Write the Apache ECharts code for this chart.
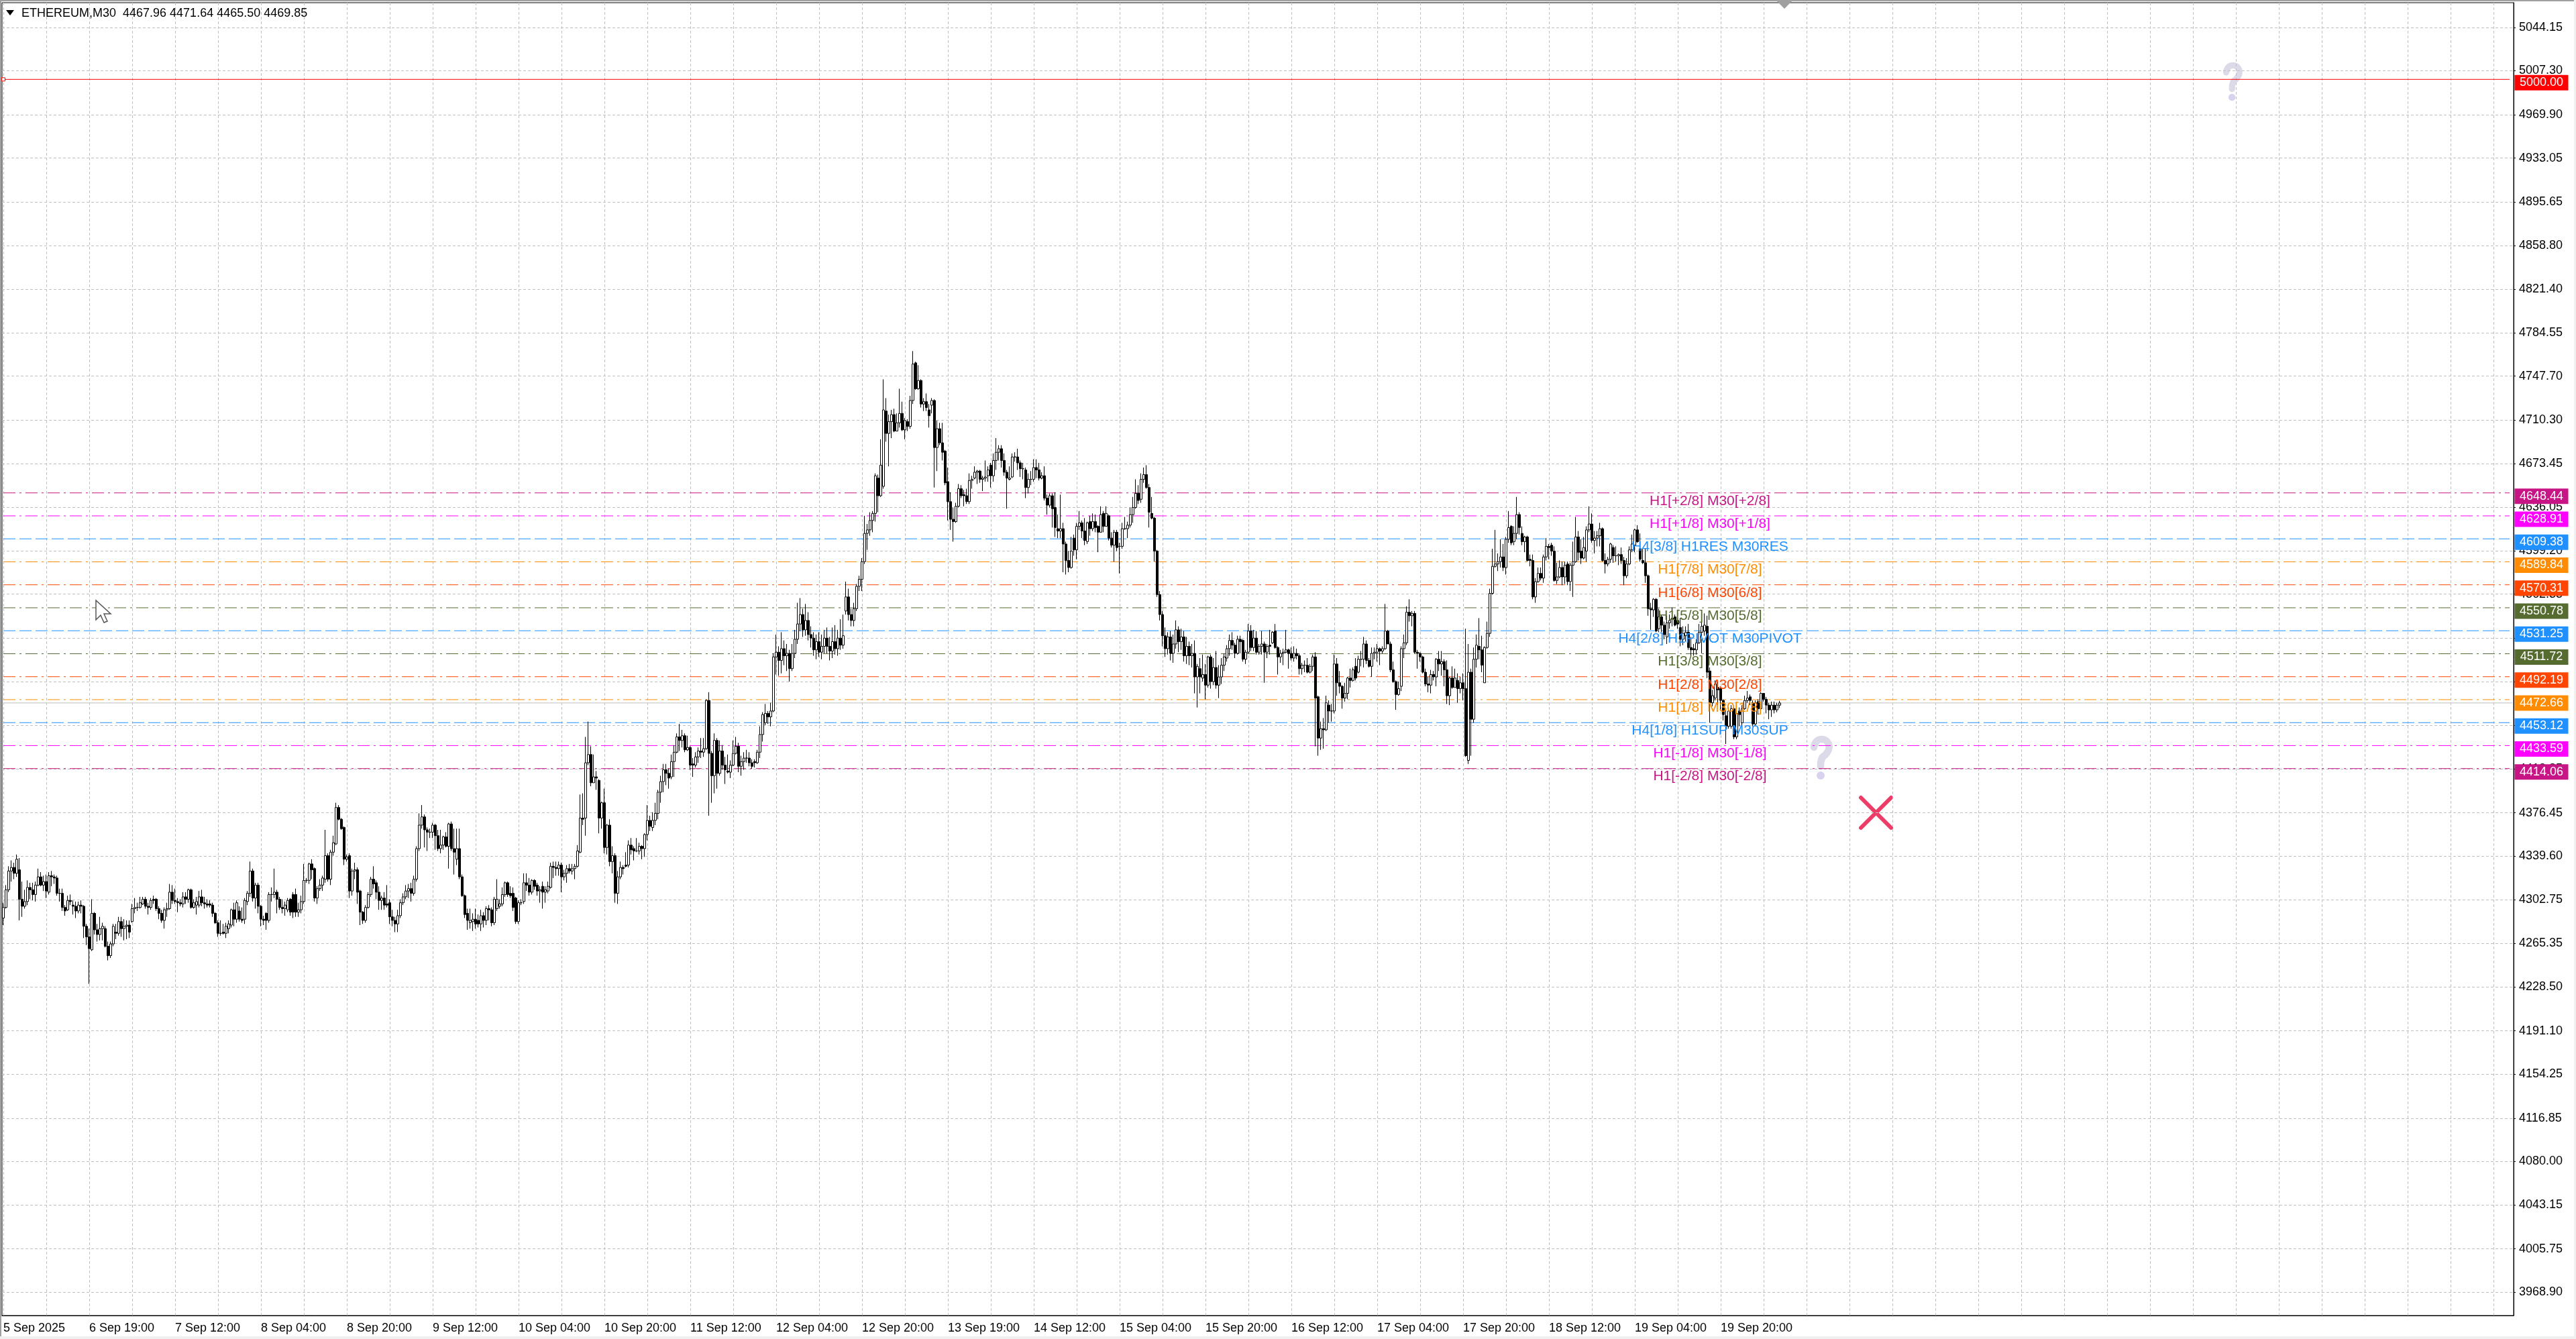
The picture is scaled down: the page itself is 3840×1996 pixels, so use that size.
<!DOCTYPE html>
<html>
<head>
<meta charset="utf-8">
<title>ETHEREUM,M30</title>
<script src="https://cdn.jsdelivr.net/npm/echarts@6/dist/echarts.min.js"></script>
<style>
html, body { margin: 0; padding: 0; background: #fff; }
#chart { width: 3840px; height: 1996px; }
</style>
</head>
<body>
<div id="chart"></div>
<script>
// x axis tick labels, one every 32 bars
const tickLabels = ['5 Sep 2025', '6 Sep 19:00', '7 Sep 12:00', '8 Sep 04:00', '8 Sep 20:00', '9 Sep 12:00', '10 Sep 04:00',
  '10 Sep 20:00', '11 Sep 12:00', '12 Sep 04:00', '12 Sep 20:00', '13 Sep 19:00', '14 Sep 12:00', '15 Sep 04:00',
  '15 Sep 20:00', '16 Sep 12:00', '17 Sep 04:00', '17 Sep 20:00', '18 Sep 12:00', '19 Sep 04:00', '19 Sep 20:00']

// y axis tick labels
const priceTicks = [5044.15, 5007.30, 4969.90, 4933.05, 4895.65, 4858.80, 4821.40, 4784.55, 4747.70, 4710.30, 4673.45,
  4636.05, 4599.20, 4562.35, 4524.95, 4488.10, 4450.70, 4413.85, 4376.45, 4339.60, 4302.75, 4265.35, 4228.50, 4191.10,
  4154.25, 4116.85, 4080.00, 4043.15, 4005.75, 3968.90]

// murrey levels
const levelValues = [4648.44, 4628.91, 4609.38, 4589.84, 4570.31, 4550.78, 4531.25, 4511.72, 4492.19, 4472.66, 4453.12, 4433.59, 4414.06]
const levelNames = ['H1[+2/8] M30[+2/8]', 'H1[+1/8] M30[+1/8]', 'H4[3/8] H1RES M30RES', 'H1[7/8] M30[7/8]', 'H1[6/8] M30[6/8]',
  'H1[5/8] M30[5/8]', 'H4[2/8] H1PIVOT M30PIVOT', 'H1[3/8] M30[3/8]', 'H1[2/8] M30[2/8]', 'H1[1/8] M30[1/8]',
  'H4[1/8] H1SUP M30SUP', 'H1[-1/8] M30[-1/8]', 'H1[-2/8] M30[-2/8]']
const levelColors = ['#C71585', '#FF00FF', '#1E90FF', '#FF8C00', '#FF4500', '#556B2F', '#1E90FF', '#556B2F', '#FF4500', '#FF8C00', '#1E90FF', '#FF00FF', '#C71585']

const targetPrice = 5000
const lastPrice = 4469.85

// candles as [open, close, low, high], one block per x axis tick
const block00 = [[4287,4296,4281,4300],[4296,4311,4295,4315],[4311,4327,4309,4331],[4327,4330,4318,4336],[4330,4325,4320,4334],[4325,4337,4322,4341],[4328,4303,4285,4338],[4303,4297,4288,4318],
  [4297,4301,4295,4311],[4301,4313,4298,4319],[4313,4311,4303,4317],[4311,4307,4302,4317],[4307,4315,4301,4318],[4315,4322,4314,4329],[4322,4315,4314,4326],[4315,4318,4310,4323],
  [4318,4310,4304,4324],[4309,4323,4307,4326],[4323,4322,4314,4327],[4322,4321,4316,4324],[4321,4308,4306,4323],[4308,4308,4301,4312],[4308,4296,4293,4312],[4296,4293,4289,4298],
  [4294,4302,4293,4306],[4302,4301,4298,4307],[4298,4297,4290,4302],[4297,4293,4287,4301],[4293,4298,4291,4301],[4298,4297,4291,4302],[4297,4280,4270,4298],[4280,4271,4264,4282]]
const block01 = [[4271,4261,4231,4278],[4260,4291,4259,4303],[4291,4277,4273,4292],[4277,4273,4267,4282],[4273,4278,4268,4288],[4278,4280,4268,4283],[4278,4263,4262,4280],[4263,4255,4251,4267],
  [4255,4265,4253,4267],[4265,4280,4263,4282],[4275,4274,4269,4282],[4274,4284,4272,4288],[4284,4278,4271,4288],[4278,4280,4268,4286],[4280,4281,4269,4285],[4281,4275,4270,4285],
  [4284,4295,4283,4299],[4295,4296,4291,4304],[4296,4296,4293,4300],[4296,4300,4295,4305],[4299,4303,4298,4305],[4303,4297,4295,4305],[4297,4296,4290,4300],[4296,4302,4294,4304],
  [4303,4302,4299,4306],[4303,4295,4293,4304],[4295,4291,4286,4297],[4291,4285,4283,4294],[4285,4294,4278,4296],[4294,4295,4288,4300],[4295,4309,4294,4316],[4309,4302,4299,4315]]
const block02 = [[4302,4301,4299,4312],[4301,4300,4292,4304],[4300,4299,4297,4303],[4299,4305,4296,4309],[4305,4303,4299,4309],[4303,4311,4300,4312],[4311,4296,4295,4312],[4296,4300,4295,4303],
  [4298,4301,4290,4305],[4298,4305,4296,4310],[4305,4300,4297,4311],[4300,4299,4295,4305],[4299,4298,4296,4303],[4299,4298,4296,4302],[4298,4291,4288,4300],[4291,4283,4282,4292],
  [4283,4274,4271,4285],[4274,4274,4272,4285],[4275,4274,4273,4282],[4274,4280,4270,4283],[4278,4282,4274,4285],[4281,4294,4279,4295],[4294,4286,4280,4300],[4286,4300,4283,4302],
  [4293,4286,4284,4297],[4286,4285,4283,4296],[4286,4302,4282,4304],[4301,4308,4298,4310],[4308,4327,4305,4335],[4327,4304,4301,4329],[4304,4315,4295,4317],[4315,4297,4291,4317]]
const block03 = [[4297,4286,4280,4298],[4286,4285,4281,4289],[4291,4285,4277,4292],[4285,4307,4283,4309],[4307,4307,4301,4313],[4307,4309,4304,4329],[4309,4303,4291,4311],[4303,4296,4294,4305],
  [4296,4295,4291,4303],[4295,4298,4289,4301],[4294,4302,4292,4304],[4303,4292,4289,4304],[4307,4292,4287,4309],[4307,4292,4288,4312],[4292,4294,4288,4300],[4294,4301,4291,4306],
  [4301,4319,4299,4333],[4319,4319,4317,4321],[4319,4333,4316,4334],[4333,4328,4320,4337],[4329,4304,4301,4330],[4304,4312,4299,4314],[4312,4315,4310,4320],[4315,4321,4310,4323],
  [4320,4340,4317,4362],[4340,4320,4318,4342],[4320,4343,4315,4345],[4343,4351,4340,4357],[4350,4381,4349,4385],[4381,4371,4370,4383],[4371,4363,4362,4372],[4364,4337,4332,4365]]
const block04 = [[4337,4339,4335,4341],[4340,4310,4304,4342],[4310,4327,4306,4329],[4327,4328,4320,4334],[4328,4309,4299,4330],[4310,4292,4281,4311],[4292,4285,4282,4293],[4285,4296,4283,4298],
  [4296,4307,4295,4309],[4307,4320,4305,4322],[4320,4316,4312,4331],[4317,4309,4303,4319],[4309,4302,4294,4314],[4302,4304,4294,4306],[4304,4298,4294,4309],[4299,4298,4296,4315],
  [4300,4288,4282,4303],[4288,4285,4280,4294],[4285,4282,4275,4288],[4282,4289,4275,4294],[4289,4300,4287,4303],[4300,4305,4298,4308],[4305,4310,4303,4315],[4310,4312,4304,4316],
  [4312,4308,4301,4317],[4308,4320,4306,4323],[4320,4346,4318,4348],[4346,4366,4344,4376],[4366,4373,4363,4383],[4373,4362,4347,4375],[4362,4360,4344,4364],[4360,4360,4355,4363]]
const block05 = [[4360,4366,4355,4368],[4366,4357,4345,4367],[4357,4346,4344,4362],[4346,4349,4342,4362],[4349,4356,4345,4357],[4356,4348,4347,4360],[4348,4367,4329,4368],[4367,4346,4344,4369],
  [4346,4343,4324,4363],[4337,4346,4332,4363],[4346,4322,4320,4363],[4322,4306,4305,4324],[4306,4290,4287,4307],[4291,4285,4277,4295],[4283,4285,4278,4295],[4284,4286,4276,4291],
  [4286,4282,4278,4295],[4285,4282,4279,4290],[4282,4289,4276,4294],[4289,4285,4279,4292],[4285,4295,4281,4297],[4295,4294,4285,4298],[4294,4283,4280,4296],[4283,4303,4281,4305],
  [4295,4303,4293,4320],[4297,4299,4295,4303],[4299,4307,4297,4313],[4307,4317,4305,4318],[4317,4307,4305,4318],[4308,4306,4304,4314],[4308,4296,4293,4313],[4304,4284,4282,4305]]
const block06 = [[4284,4300,4282,4302],[4300,4300,4298,4303],[4301,4317,4299,4325],[4317,4315,4310,4325],[4315,4309,4306,4321],[4309,4319,4307,4320],[4319,4314,4311,4320],[4315,4310,4306,4317],
  [4310,4311,4300,4314],[4314,4309,4295,4318],[4309,4311,4300,4314],[4310,4314,4308,4318],[4313,4331,4312,4334],[4331,4330,4321,4335],[4330,4329,4323,4335],[4329,4332,4323,4335],
  [4332,4322,4309,4334],[4322,4325,4319,4328],[4325,4329,4317,4332],[4329,4327,4325,4333],[4327,4329,4324,4333],[4329,4331,4320,4333],[4331,4344,4330,4349],[4343,4372,4342,4392],
  [4372,4371,4366,4393],[4372,4419,4357,4441],[4419,4426,4417,4454],[4426,4402,4399,4433],[4402,4407,4402,4426],[4407,4406,4396,4412],[4404,4372,4359,4405],[4372,4385,4363,4386]]
const block07 = [[4385,4347,4342,4397],[4347,4366,4341,4367],[4366,4335,4331,4371],[4335,4340,4325,4348],[4340,4308,4300,4342],[4308,4322,4299,4327],[4322,4330,4320,4335],[4330,4329,4324,4332],
  [4332,4331,4330,4343],[4332,4349,4330,4353],[4349,4345,4341,4355],[4346,4344,4336,4348],[4344,4344,4343,4355],[4344,4348,4341,4351],[4348,4346,4337,4349],[4346,4358,4339,4359],
  [4358,4370,4353,4383],[4370,4365,4361,4374],[4364,4370,4361,4377],[4370,4376,4366,4385],[4376,4394,4371,4396],[4394,4403,4385,4408],[4403,4413,4394,4418],[4413,4410,4400,4418],
  [4410,4406,4397,4414],[4407,4420,4405,4426],[4420,4428,4407,4434],[4428,4441,4427,4444],[4441,4438,4429,4452],[4438,4442,4432,4447],[4442,4430,4428,4444],[4430,4432,4429,4442]]
const block08 = [[4432,4417,4413,4433],[4418,4417,4407,4423],[4417,4424,4415,4428],[4424,4429,4419,4432],[4429,4428,4423,4440],[4428,4431,4424,4440],[4431,4472,4430,4473],[4472,4427,4374,4479],
  [4427,4408,4385,4429],[4408,4438,4393,4444],[4438,4410,4397,4440],[4410,4429,4408,4438],[4429,4417,4413,4434],[4417,4413,4401,4424],[4412,4411,4410,4426],[4411,4417,4406,4421],
  [4417,4427,4416,4438],[4427,4433,4426,4441],[4433,4416,4411,4436],[4416,4420,4408,4425],[4420,4423,4413,4428],[4423,4423,4419,4430],[4423,4419,4416,4428],[4419,4416,4414,4422],
  [4420,4419,4415,4422],[4419,4428,4418,4430],[4428,4443,4423,4450],[4443,4460,4437,4462],[4453,4461,4451,4469],[4461,4458,4452,4463],[4458,4463,4450,4470],[4463,4509,4462,4512]]
const block09 = [[4509,4513,4494,4528],[4513,4506,4493,4518],[4506,4516,4495,4530],[4516,4510,4502,4523],[4510,4512,4497,4520],[4512,4499,4488,4515],[4499,4512,4497,4520],[4512,4524,4508,4532],
  [4524,4537,4520,4555],[4537,4545,4531,4559],[4545,4532,4526,4550],[4532,4540,4527,4554],[4540,4528,4523,4547],[4528,4525,4517,4535],[4525,4515,4510,4530],[4515,4522,4507,4528],
  [4522,4513,4509,4530],[4513,4518,4507,4528],[4518,4525,4512,4532],[4525,4518,4512,4534],[4518,4514,4506,4526],[4514,4522,4508,4534],[4522,4516,4511,4536],[4516,4525,4510,4532],
  [4525,4519,4515,4541],[4519,4527,4516,4545],[4548,4560,4545,4573],[4560,4545,4540,4567],[4545,4540,4535,4550],[4540,4550,4535,4555],[4550,4569,4548,4571],[4569,4575,4565,4578]]
const block10 = [[4575,4590,4565,4593],[4590,4614,4588,4629],[4614,4617,4600,4622],[4617,4625,4612,4632],[4625,4631,4615,4633],[4631,4663,4624,4665],[4661,4646,4632,4664],[4646,4672,4645,4694],
  [4654,4719,4652,4745],[4718,4699,4692,4729],[4699,4709,4671,4715],[4709,4715,4695,4719],[4715,4701,4700,4720],[4701,4708,4701,4716],[4708,4716,4704,4737],[4716,4702,4701,4726],
  [4702,4710,4694,4712],[4709,4705,4701,4711],[4705,4727,4703,4731],[4727,4758,4724,4769],[4759,4737,4736,4760],[4737,4744,4736,4757],[4744,4724,4721,4745],[4724,4726,4718,4729],
  [4726,4721,4718,4733],[4719,4714,4704,4724],[4723,4727,4716,4729],[4727,4687,4653,4728],[4687,4703,4667,4710],[4703,4691,4689,4708],[4691,4683,4676,4708],[4684,4657,4655,4685]]
const block11 = [[4658,4641,4625,4670],[4641,4626,4617,4649],[4626,4624,4607,4636],[4624,4637,4623,4640],[4637,4652,4636,4656],[4652,4646,4644,4655],[4647,4646,4637,4651],[4646,4641,4639,4652],
  [4641,4659,4639,4665],[4659,4660,4652,4663],[4661,4666,4660,4671],[4666,4667,4656,4668],[4667,4660,4657,4668],[4660,4661,4650,4663],[4661,4662,4658,4676],[4663,4668,4658,4671],
  [4672,4663,4653,4674],[4663,4676,4658,4682],[4676,4683,4668,4695],[4683,4686,4676,4689],[4686,4676,4670,4689],[4676,4666,4663,4682],[4666,4661,4635,4668],[4660,4661,4659,4671],
  [4662,4679,4661,4682],[4679,4679,4675,4683],[4679,4674,4668,4686],[4674,4669,4662,4676],[4669,4669,4660,4674],[4668,4653,4644,4670],[4653,4660,4648,4665],[4660,4660,4655,4667]]
const block12 = [[4660,4670,4658,4677],[4670,4668,4661,4677],[4668,4661,4659,4674],[4661,4663,4660,4666],[4663,4644,4642,4671],[4644,4638,4630,4647],[4638,4646,4636,4648],[4646,4635,4619,4648],
  [4636,4619,4611,4649],[4618,4616,4610,4630],[4616,4618,4610,4647],[4618,4605,4581,4623],[4605,4591,4579,4607],[4591,4585,4581,4599],[4585,4599,4584,4611],[4610,4600,4595,4613],
  [4600,4620,4592,4623],[4620,4623,4617,4633],[4623,4616,4610,4625],[4616,4608,4604,4627],[4607,4623,4605,4624],[4624,4618,4612,4629],[4618,4624,4616,4631],[4624,4619,4615,4630],
  [4620,4615,4598,4621],[4615,4630,4615,4637],[4631,4620,4615,4633],[4620,4631,4620,4637],[4629,4610,4608,4630],[4610,4604,4602,4615],[4604,4615,4590,4617],[4615,4602,4599,4617]]
const block13 = [[4603,4603,4580,4606],[4603,4618,4601,4623],[4618,4618,4617,4628],[4618,4621,4610,4624],[4621,4630,4619,4636],[4630,4636,4623,4645],[4636,4648,4635,4660],[4648,4642,4639,4655],
  [4643,4660,4640,4665],[4660,4664,4657,4670],[4664,4653,4652,4672],[4653,4632,4619,4656],[4631,4627,4626,4645],[4627,4599,4590,4628],[4599,4562,4560,4600],[4562,4545,4540,4565],
  [4545,4527,4518,4548],[4527,4516,4509,4534],[4516,4526,4511,4530],[4526,4512,4506,4531],[4512,4520,4504,4528],[4520,4532,4516,4540],[4532,4522,4513,4535],[4522,4526,4515,4533],
  [4526,4510,4505,4531],[4510,4518,4503,4526],[4518,4510,4502,4522],[4510,4512,4500,4520],[4512,4492,4478,4523],[4492,4501,4466,4503],[4499,4492,4478,4508],[4491,4494,4488,4511]]
const block14 = [[4494,4485,4473,4503],[4485,4509,4483,4510],[4509,4488,4482,4511],[4488,4500,4485,4508],[4500,4485,4482,4514],[4485,4492,4474,4502],[4492,4502,4486,4508],[4502,4509,4497,4512],
  [4508,4516,4505,4519],[4516,4523,4510,4528],[4523,4519,4515,4530],[4519,4512,4508,4521],[4512,4524,4511,4527],[4524,4522,4512,4527],[4523,4507,4505,4524],[4507,4513,4503,4515],
  [4513,4531,4512,4537],[4531,4517,4514,4536],[4517,4525,4514,4532],[4525,4513,4511,4531],[4513,4518,4511,4520],[4518,4520,4511,4531],[4520,4513,4487,4522],[4513,4518,4508,4520],
  [4519,4518,4511,4532],[4521,4530,4520,4531],[4531,4517,4516,4537],[4517,4509,4494,4518],[4509,4512,4504,4515],[4512,4513,4502,4516],[4513,4515,4512,4532],[4515,4512,4499,4516]]
const block15 = [[4512,4508,4506,4517],[4508,4512,4505,4518],[4512,4510,4507,4516],[4510,4499,4494,4512],[4499,4502,4494,4504],[4502,4502,4496,4506],[4502,4496,4495,4508],[4496,4501,4495,4503],
  [4501,4509,4497,4511],[4509,4474,4433,4513],[4475,4440,4425,4476],[4440,4448,4430,4454],[4448,4447,4431,4457],[4447,4470,4446,4476],[4468,4463,4453,4472],[4463,4463,4454,4469],
  [4463,4503,4461,4511],[4503,4487,4476,4508],[4487,4484,4478,4497],[4484,4474,4465,4485],[4474,4478,4471,4487],[4478,4491,4473,4492],[4491,4489,4483,4499],[4489,4498,4488,4500],
  [4501,4491,4489,4508],[4496,4507,4495,4510],[4507,4507,4501,4514],[4507,4520,4500,4526],[4520,4506,4503,4523],[4506,4501,4500,4508],[4501,4512,4492,4517],[4512,4513,4507,4517]]
const block16 = [[4513,4516,4505,4520],[4516,4514,4502,4517],[4514,4516,4512,4518],[4516,4531,4515,4554],[4531,4520,4520,4532],[4520,4498,4496,4522],[4498,4488,4487,4505],[4488,4477,4464,4489],
  [4477,4482,4476,4488],[4484,4516,4480,4518],[4516,4521,4508,4528],[4521,4547,4519,4552],[4547,4544,4539,4558],[4544,4546,4535,4548],[4546,4513,4512,4548],[4513,4512,4499,4515],
  [4512,4509,4505,4513],[4509,4496,4495,4510],[4496,4486,4484,4499],[4486,4485,4479,4492],[4485,4494,4478,4498],[4494,4492,4489,4497],[4492,4507,4484,4508],[4507,4503,4497,4514],
  [4503,4505,4493,4514],[4505,4498,4484,4507],[4498,4476,4469,4506],[4476,4491,4468,4492],[4491,4483,4482,4501],[4483,4491,4483,4499],[4489,4482,4470,4495],[4482,4487,4478,4492]]
const block17 = [[4487,4482,4472,4495],[4482,4425,4424,4533],[4421,4496,4418,4520],[4496,4456,4425,4499],[4456,4507,4453,4517],[4507,4519,4500,4528],[4518,4515,4507,4542],[4515,4502,4496,4527],
  [4487,4517,4487,4518],[4517,4529,4516,4539],[4529,4563,4526,4567],[4563,4586,4562,4601],[4586,4588,4585,4617],[4588,4590,4582,4597],[4590,4594,4585,4609],[4594,4585,4582,4605],
  [4585,4609,4579,4611],[4609,4619,4606,4633],[4620,4606,4604,4621],[4607,4614,4604,4620],[4614,4630,4609,4645],[4630,4619,4613,4632],[4614,4607,4604,4620],[4607,4611,4598,4612],
  [4611,4591,4590,4612],[4592,4591,4586,4596],[4591,4560,4558,4596],[4560,4573,4555,4576],[4573,4580,4572,4585],[4580,4576,4574,4585],[4576,4594,4572,4596],[4594,4603,4591,4610]]
const block18 = [[4603,4602,4592,4605],[4604,4599,4595,4606],[4599,4574,4573,4603],[4574,4577,4571,4589],[4577,4585,4576,4591],[4585,4577,4570,4590],[4577,4587,4571,4590],[4588,4573,4570,4590],
  [4573,4587,4565,4589],[4587,4590,4560,4607],[4590,4611,4589,4628],[4611,4598,4591,4616],[4599,4593,4588,4609],[4593,4602,4592,4611],[4599,4617,4590,4620],[4617,4622,4615,4637],
  [4622,4608,4606,4631],[4608,4610,4597,4616],[4610,4612,4603,4616],[4612,4618,4603,4623],[4618,4591,4590,4619],[4591,4588,4580,4597],[4588,4592,4586,4594],[4592,4605,4589,4606],
  [4602,4595,4589,4604],[4595,4595,4590,4603],[4595,4596,4587,4597],[4596,4591,4588,4602],[4591,4578,4570,4594],[4578,4588,4576,4593],[4588,4600,4587,4603],[4600,4605,4598,4613]]
const block19 = [[4604,4617,4598,4618],[4617,4607,4606,4621],[4601,4592,4590,4614],[4591,4589,4588,4601],[4589,4578,4572,4601],[4578,4550,4544,4579],[4550,4549,4532,4555],[4549,4558,4543,4559],
  [4558,4531,4530,4559],[4533,4543,4530,4550],[4543,4536,4530,4545],[4536,4528,4524,4539],[4526,4538,4520,4544],[4538,4540,4533,4545],[4541,4542,4535,4551],[4543,4536,4535,4545],
  [4540,4537,4533,4546],[4534,4524,4518,4542],[4524,4529,4519,4535],[4527,4530,4522,4535],[4530,4517,4515,4537],[4517,4515,4510,4526],[4516,4515,4510,4520],[4515,4521,4511,4524],
  [4521,4530,4520,4537],[4530,4535,4512,4540],[4531,4536,4527,4546],[4535,4496,4491,4544],[4497,4470,4453,4500],[4470,4476,4467,4481],[4474,4486,4472,4489],[4483,4481,4468,4488]]
const block20 = [[4482,4472,4464,4484],[4472,4460,4455,4473],[4459,4450,4435,4464],[4450,4463,4448,4466],[4450,4465,4448,4468],[4465,4441,4439,4466],[4441,4461,4439,4466],[4463,4460,4450,4466],
  [4453,4465,4450,4468],[4465,4472,4464,4476],[4472,4474,4470,4480],[4475,4472,4468,4477],[4470,4452,4450,4472],[4452,4470,4450,4472],[4471,4465,4460,4473],[4465,4478,4463,4479],
  [4478,4473,4471,4478],[4473,4468,4461,4475],[4468,4464,4456,4470],[4464,4468,4458,4471],[4468,4464,4461,4471],[4464,4468,4462,4470],[4467.96,4469.85,4465.50,4471.64]]

const candles = [].concat(block00, block01, block02, block03, block04, block05, block06, block07, block08, block09, block10,
  block11, block12, block13, block14, block15, block16, block17, block18, block19, block20)

// the window has room for 936 bars, price data stops at the last candle
const barSlots = 936
const lastSlot = 934
const labelSlot = 636
const tickEvery = 32
const categories = Array.from({ length: barSlots }, (v, i) => (i % tickEvery === 0 && tickLabels[i / tickEvery]) || '')

const axisFont = "'Liberation Sans', sans-serif"
const axisFontSize = 18

const chart = echarts.init(document.getElementById('chart'))

// dash-dot for the murrey lines, long dash for the blue ones
const levelSeries = levelValues.map((v, i) => ({
  type: 'line',
  z: 1,
  silent: true,
  showSymbol: false,
  data: [[0, v], [lastSlot, v]],
  lineStyle: {
    color: levelColors[i],
    width: 1,
    type: levelColors[i] === '#1E90FF' ? [18, 6] : [18, 6, 3, 6]
  }
}))

// price tag on the axis, slightly under its line like in the terminal
function tagLabel (color, value) {
  return {
    show: true,
    position: 'right',
    offset: [38, 5],
    formatter: value.toFixed(2),
    width: 80,
    height: 23,
    lineHeight: 23,
    align: 'center',
    color: '#fff',
    fontFamily: axisFont,
    fontSize: axisFontSize,
    backgroundColor: color
  }
}

const tagData = levelValues.map((v, i) => ({
  value: [lastSlot + 1, v],
  label: tagLabel(levelColors[i], v)
}))
tagData.push({ value: [lastSlot + 1, targetPrice], label: tagLabel('#FF0000', targetPrice) })

const nameData = levelValues.map((v, i) => ({
  value: [labelSlot, v],
  label: {
    show: true,
    position: 'inside',
    offset: [0, 12],
    formatter: levelNames[i],
    color: levelColors[i],
    fontFamily: 'Liberation Sans',
    fontSize: 21
  }
}))

// question mark picture, drawn as a thick rounded stroke
function questionMark (x, y, scale) {
  return {
    type: 'group',
    x: x,
    y: y,
    scaleX: scale,
    scaleY: scale,
    z: 20,
    children: [
      {
        type: 'polyline',
        shape: { points: [[5, 17], [9, 8], [17, 5], [25, 9], [27.5, 18], [23, 27], [17, 33], [15, 45]], smooth: 0.5 },
        style: { fill: null, stroke: '#dcd9e8', lineWidth: 10.5, lineCap: 'round', lineJoin: 'round' }
      },
      { type: 'circle', shape: { cx: 15, cy: 59, r: 6 }, style: { fill: '#d9d2ee' } }
    ]
  }
}

chart.setOption({
  animation: false,
  backgroundColor: '#fff',
  title: {
    text: 'ETHEREUM,M30  4467.96 4471.64 4465.50 4469.85',
    left: 32,
    top: 11,
    padding: 0,
    textStyle: { fontFamily: axisFont, fontSize: axisFontSize, fontWeight: 'normal', color: '#000' }
  },
  grid: { left: 3, right: 93, top: 4, bottom: 35, show: true, backgroundColor: '#fff', borderColor: '#000', borderWidth: 1 },
  xAxis: {
    type: 'category',
    data: categories,
    boundaryGap: true,
    axisLine: { lineStyle: { color: '#000', width: 1 } },
    axisTick: { alignWithLabel: true, interval: tickEvery - 1, length: 4, lineStyle: { color: '#000' } },
    axisLabel: { interval: tickEvery - 1, align: 'left', margin: 10, color: '#000', fontFamily: axisFont, fontSize: axisFontSize },
    splitLine: { show: true, alignWithLabel: true, interval: tickEvery / 2 - 1, lineStyle: { color: '#c0c0c0', type: [4, 3], width: 1 } }
  },
  yAxis: {
    type: 'value',
    position: 'right',
    min: 3949.07,
    max: 5065.2,
    axisLine: { show: true, lineStyle: { color: '#000', width: 1 } },
    axisTick: { show: true, length: 3, customValues: priceTicks, lineStyle: { color: '#000' } },
    axisLabel: { customValues: priceTicks, margin: 8, padding: [2, 0, 0, 0], color: '#000', fontFamily: axisFont, fontSize: axisFontSize, formatter: v => v.toFixed(2) },
    splitLine: { show: true, lineStyle: { color: '#c0c0c0', type: [4, 3], width: 1 } }
  },
  series: [
    ...levelSeries,
    {
      type: 'line',
      z: 1,
      silent: true,
      showSymbol: false,
      data: [[0, lastPrice], [barSlots - 1, lastPrice]],
      lineStyle: { color: '#c0c0c0', width: 1 }
    },
    {
      type: 'line',
      z: 1,
      silent: true,
      symbol: 'rect',
      symbolSize: 5,
      showSymbol: true,
      data: [[0, targetPrice], [lastSlot, targetPrice]],
      lineStyle: { color: '#FF0000', width: 1 },
      itemStyle: { color: '#fff', borderColor: '#FF0000', borderWidth: 1 }
    },
    {
      type: 'candlestick',
      z: 3,
      silent: true,
      // over 600 bars the default switches to large mode and loses the bodies
      large: false,
      barWidth: 3,
      data: candles,
      itemStyle: { color: '#fff', color0: '#000', borderColor: '#000', borderColor0: '#000', borderWidth: 1 }
    },
    { type: 'scatter', z: 5, silent: true, symbolSize: 1, itemStyle: { color: 'transparent', opacity: 1 }, data: nameData },
    { type: 'scatter', z: 6, silent: true, symbolSize: 1, itemStyle: { color: 'transparent', opacity: 1 }, data: tagData }
  ],
  graphic: [
    // window frame of the terminal
    { type: 'rect', shape: { x: 0, y: 0, width: 3840, height: 2 }, style: { fill: '#a0a0a0' }, z: 30 },
    { type: 'rect', shape: { x: 0, y: 0, width: 2, height: 1996 }, style: { fill: '#a0a0a0' }, z: 30 },
    { type: 'rect', shape: { x: 0, y: 1992, width: 3840, height: 4 }, style: { fill: '#f0f0f0' }, z: 30 },
    { type: 'rect', shape: { x: 3837, y: 0, width: 3, height: 1996 }, style: { fill: '#f0f0f0' }, z: 30 },
    // chart shift marker
    { type: 'polygon', shape: { points: [[2649, 2], [2671, 2], [2660, 13]] }, style: { fill: '#a0a0a0' }, z: 30 },
    // collapse arrow next to the title
    { type: 'polygon', shape: { points: [[9, 15], [21, 15], [15, 23]] }, style: { fill: '#000' }, z: 30 },
    // mouse pointer
    {
      type: 'polygon',
      x: 143,
      y: 895,
      z: 30,
      shape: { points: [[0, 0], [0, 29], [7, 22], [12, 33], [17, 31], [12, 20], [22, 20]] },
      style: { fill: '#fff', stroke: '#555', lineWidth: 1.5 }
    },
    questionMark(3314, 93, 0.88),
    questionMark(2699, 1097, 1),
    // red cross
    {
      type: 'group',
      z: 20,
      children: [
        { type: 'line', shape: { x1: 2774, y1: 1189, x2: 2819, y2: 1234 }, style: { stroke: '#ec3c68', lineWidth: 6, lineCap: 'round' } },
        { type: 'line', shape: { x1: 2819, y1: 1189, x2: 2774, y2: 1234 }, style: { stroke: '#ec3c68', lineWidth: 6, lineCap: 'round' } }
      ]
    }
  ]
})
</script>
</body>
</html>
